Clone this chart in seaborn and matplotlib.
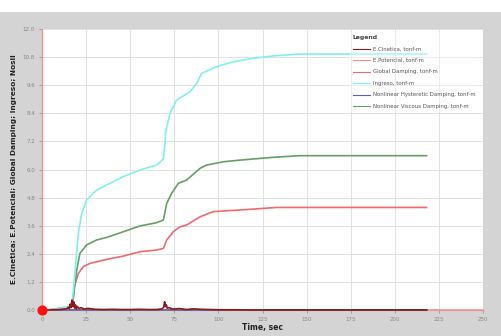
import matplotlib
matplotlib.use("Agg")
import matplotlib.pyplot as plt
import seaborn as sns
import pandas as pd
from matplotlib.patches import Rectangle
from matplotlib.lines import Line2D

# ---- data ----
t_ingreso = [0, 3, 8, 12, 15, 16.8, 17.8, 19.3, 20.6, 22.5, 25.3, 31, 36.7, 46, 55.6, 65, 68.8,
             69.7, 70.3, 72.6, 76.4, 83.9, 87.7, 90.5, 99, 108.4, 119.8, 131, 146, 218]
v_ingreso = [0, 0, 0.05, 0.1, 0.12, 0.14, 0.85, 2.13, 3.27, 4.13, 4.70, 5.12, 5.34, 5.69, 5.98, 6.19, 6.45,
             7.12, 7.69, 8.40, 8.97, 9.32, 9.68, 10.1, 10.39, 10.6, 10.75, 10.85, 10.93, 10.93]

t_viscous = [0, 3, 8, 12, 15, 16.8, 17.8, 19.7, 21.5, 25.3, 31, 36.7, 46, 55.6, 65, 68.8, 70.7, 73.5,
             77.3, 82, 89.6, 93.4, 102.8, 112, 131, 146, 218]
v_viscous = [0, 0, 0.05, 0.1, 0.12, 0.14, 0.57, 1.71, 2.42, 2.78, 2.99, 3.10, 3.34, 3.59, 3.73, 3.84, 4.55,
             4.98, 5.41, 5.55, 6.05, 6.19, 6.33, 6.40, 6.52, 6.59, 6.59]

t_global = [0, 15, 17.5, 18.3, 20.6, 23.4, 27.2, 36.7, 46, 55.6, 65, 68.8, 70.7, 74.4, 78.2, 82, 89.6,
            97, 118, 133, 218]
v_global = [0, 0.05, 0.3, 1.0, 1.56, 1.85, 1.99, 2.16, 2.30, 2.49, 2.56, 2.63, 2.99, 3.34, 3.55, 3.63, 3.98,
            4.20, 4.30, 4.38, 4.38]

t_cinetica = [0, 3, 10, 14, 15, 15.5, 16, 16.5, 17, 17.5, 18, 18.5, 19, 19.5, 20, 21, 22, 24, 26, 30, 35,
              40, 45, 50, 55, 60, 65, 68, 69, 69.5, 70, 70.5, 71, 72, 74, 78, 82, 86, 90, 95, 100, 110,
              120, 140, 160, 180, 200, 218]
v_cinetica = [0, 0, 0.02, 0.05, 0.12, 0.05, 0.25, 0.1, 0.43, 0.15, 0.35, 0.08, 0.22, 0.05, 0.15, 0.06, 0.1,
              0.04, 0.07, 0.03, 0.02, 0.03, 0.02, 0.02, 0.03, 0.02, 0.02, 0.05, 0.12, 0.35, 0.15, 0.22,
              0.08, 0.1, 0.04, 0.06, 0.02, 0.05, 0.03, 0.02, 0.01, 0.01, 0.0, 0.0, 0.0, 0.0, 0.0, 0.0]

t_potencial = [0, 250]
v_potencial = [0, 0]
t_hyst = [0, 218]
v_hyst = [0, 0]

labels = ["E.Cinetica, tonf-m", "E.Potencial, tonf-m", "Global Damping, tonf-m",
          "Ingreso, tonf-m", "Nonlinear Hysteretic Damping, tonf-m", "Nonlinear Viscous Damping, tonf-m"]
colors = ["#8b1a1a", "#f49090", "#f06a6a", "#80f0f0", "#6060a8", "#64a064"]
x_ticks = [0, 25, 50, 75, 100, 125, 150, 175, 200, 225, 250]
y_ticks = [0.0, 1.2, 2.4, 3.6, 4.8, 6.0, 7.2, 8.4, 9.6, 10.8, 12.0]

# ---- figure ----
fig = plt.figure(figsize=(5.01, 3.36), dpi=100, facecolor="#d4d4d4")
fig.patches.append(Rectangle((0, 324 / 336), 1, 12 / 336, transform=fig.transFigure,
                             facecolor="white", edgecolor="none", zorder=0))
ax = fig.add_axes([42 / 501, 26 / 336, 441 / 501, 281 / 336])
ax.set_zorder(2)
ax.set_facecolor("white")

series = [
    (t_potencial, v_potencial, 1),
    (t_hyst, v_hyst, 4),
    (t_global, v_global, 2),
    (t_viscous, v_viscous, 5),
    (t_ingreso, v_ingreso, 3),
    (t_cinetica, v_cinetica, 0),
]
for tt, vv, idx in series:
    df = pd.DataFrame({"t": tt, "v": vv})
    sns.lineplot(data=df, x="t", y="v", ax=ax, color=colors[idx], lw=1.2,
                 estimator=None, sort=False, legend=False, zorder=3)
for ln in ax.lines:
    ln.set_clip_on(False)

ax.scatter([0], [0], s=40, color="#ff1010", zorder=6, clip_on=False)

ax.set_xlim(0, 250)
ax.set_ylim(0, 12)
ax.set_xticks(x_ticks)
ax.set_yticks(y_ticks)
ax.set_xticklabels([str(v) for v in x_ticks])
ax.set_yticklabels([f"{v:.1f}" for v in y_ticks])
ax.tick_params(axis="both", labelsize=4, colors="#888888", length=2, width=0.5, pad=3)
ax.grid(True, color="#e2e2e2", lw=0.7, zorder=0)
ax.set_axisbelow(True)
for s in ["top", "right"]:
    ax.spines[s].set_visible(False)
ax.spines["bottom"].set_color("#f49090")
ax.spines["bottom"].set_linewidth(0.8)
ax.spines["left"].set_color("#f49090")
ax.spines["left"].set_linewidth(1.0)

ax.set_xlabel("Time, sec", fontsize=5.5, fontweight="bold", color="#222222", labelpad=1)
ax.set_ylabel("E.Cinetica; E.Potencial; Global Damping; Ingreso; Nosil", fontsize=5.3,
              fontweight="bold", color="#222222", labelpad=4)

handles = [Line2D([0], [0], color=c, lw=0.8) for c in colors]
leg = ax.legend(handles, labels, title="Legend", loc="upper left",
                bbox_to_anchor=(305 / 441, 1.0), fontsize=3.9, title_fontsize=4.4,
                frameon=True, framealpha=0.35, edgecolor="none", handlelength=3.2,
                labelspacing=1.2, handletextpad=0.5, borderpad=0.6, alignment="left")
leg.get_title().set_fontweight("bold")
leg.get_title().set_color("#444444")
for txt in leg.get_texts():
    txt.set_color("#555555")

fig.savefig("out.png", dpi=100, facecolor=fig.get_facecolor())
